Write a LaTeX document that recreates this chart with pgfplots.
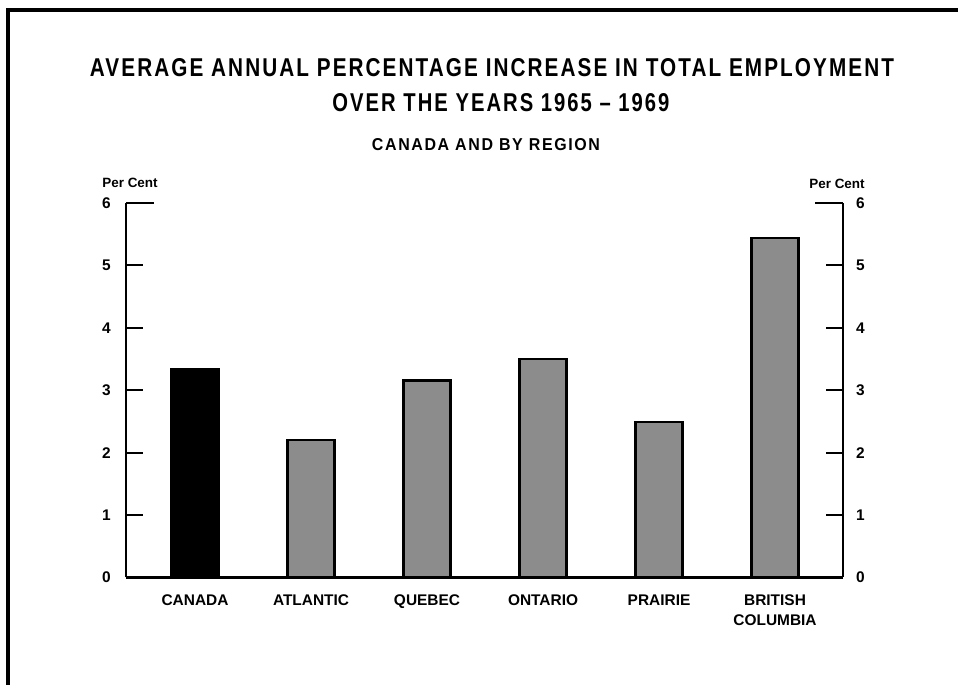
\documentclass[border=0pt]{standalone}
\usepackage{pgfplots}
\pgfplotsset{compat=1.18}
\usepackage{graphicx}
\usepackage{fontspec}
\setmainfont{Liberation Sans}
\newfontfamily\titlefont[LetterSpace=10]{Liberation Sans}
\begin{document}
\begin{tikzpicture}[x=1bp,y=1bp]
\useasboundingbox (0,0) rectangle (958,685);
\fill[white] (0,0) rectangle (958,685);
\draw[line width=4bp] (8,0) -- (8,675) -- (958,675);

\pgfplotsset{
  commonax/.style={
    at={(126bp,107.5bp)}, anchor=south west,
    scale only axis, width=717bp, height=374.5bp,
    xmin=-0.595, xmax=5.586, ymin=0, ymax=6,
    ytick={0,1,2,3,4,5}, extra y ticks={6},
    extra y tick style={major tick length=28bp},
    major tick length=17bp, tick align=inside,
    y tick style={line width=2bp, black},
    /pgf/number format/assume math mode=true,
    yticklabel style={font=\bfseries\fontsize{15.5}{15.5}\selectfont, inner sep=0pt},
    axis line style={line width=2.5bp, -},
  }
}

\begin{axis}[commonax,
  axis x line*=bottom, axis y line*=left,
  x axis line style={line width=3bp},
  axis on top,
  xtick={0,1,2,3,4,5},
  xticklabels={CANADA,ATLANTIC,QUEBEC,ONTARIO,PRAIRIE,{BRITISH\\COLUMBIA}},
  x tick style={draw=none},
  xticklabel style={font=\bfseries\fontsize{15.5}{20}\selectfont, align=center, anchor=north, inner sep=0pt, yshift=-17bp},
  yticklabel style={anchor=east, xshift=-15bp},
]
\addplot[ybar, bar width=47bp, bar shift=0pt, fill=black, draw=black, /tikz/line width=2.5bp]
  coordinates {(0,3.34)};
\addplot[ybar, bar width=47bp, bar shift=0pt, fill=black!45, draw=black, /tikz/line width=2.5bp]
  coordinates {(1,2.20) (2,3.16) (3,3.50) (4,2.49) (5,5.44)};
\end{axis}

\begin{axis}[commonax,
  hide x axis, axis y line*=right,
  yticklabel style={anchor=west, xshift=13bp},
]
\addplot[draw=none] coordinates {(0,0)};
\end{axis}

\node[font=\bfseries\fontsize{13.5}{13.5}\selectfont] at (130,502) {Per Cent};
\node[font=\bfseries\fontsize{13.5}{13.5}\selectfont] at (837,501) {Per Cent};

\node at (492,617) {\resizebox{804bp}{18bp}{\titlefont\bfseries AVERAGE ANNUAL PERCENTAGE INCREASE IN TOTAL EMPLOYMENT}};
\node at (501,582) {\resizebox{337bp}{18bp}{\titlefont\bfseries OVER THE YEARS 1965 \textendash{} 1969}};
\node at (486,540) {\resizebox{228bp}{12bp}{\titlefont\bfseries CANADA AND BY REGION}};
\end{tikzpicture}
\end{document}
